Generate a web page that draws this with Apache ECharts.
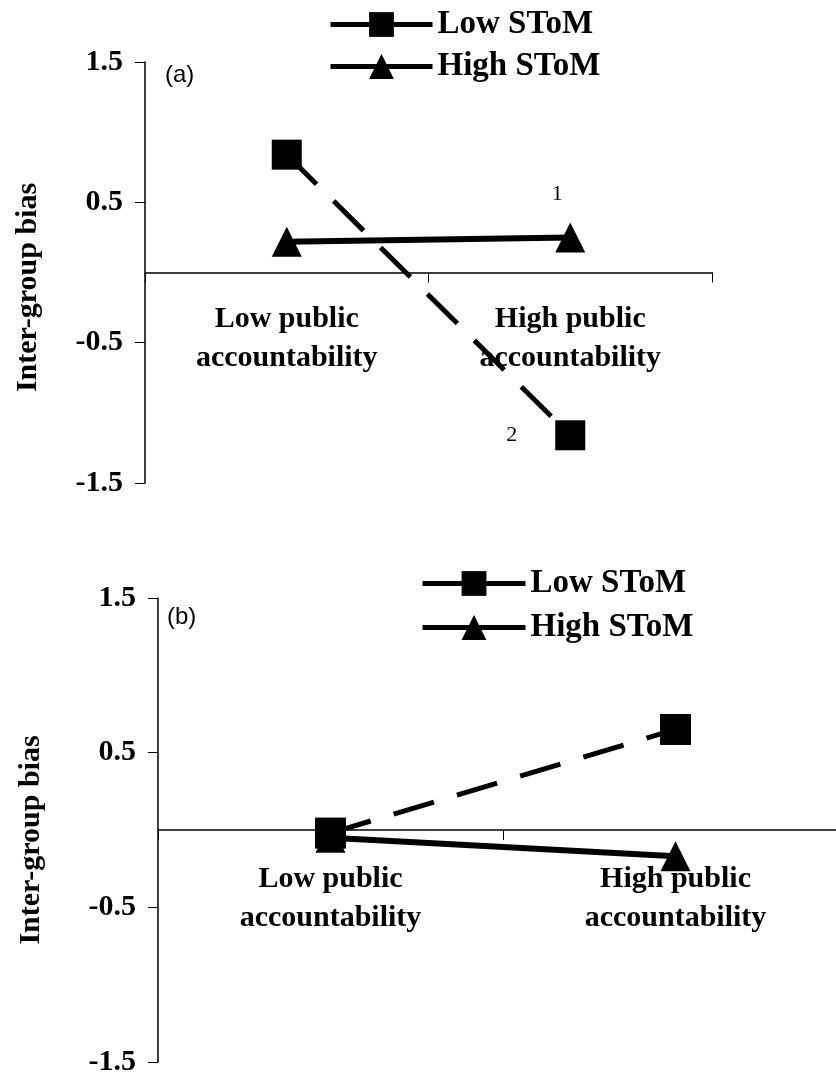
<!DOCTYPE html>
<html>
<head>
<meta charset="utf-8">
<script src="https://cdn.jsdelivr.net/npm/echarts@6/dist/echarts.min.js"></script>
<style>
html,body{margin:0;padding:0;background:#fff;}
#chart{width:836px;height:1072px;}
</style>
</head>
<body>
<div id="chart"></div>
<script>
// ---- data ----
const categories = ['Low public\naccountability', 'High public\naccountability'];
const seriesNames = ['Low SToM', 'High SToM'];
const lowStomA = [0.84, -1.16];
const highStomA = [0.22, 0.25];
const lowStomB = [-0.02, 0.65];
const highStomB = [-0.05, -0.17];
const yMin = -1.5, yMax = 1.5, yStep = 1;
const panelLabels = ['(a)', '(b)'];
const yName = 'Inter-group bias';
const notesA = { high: '1', low: '2' };

const serif = "'Liberation Serif','Times New Roman',serif";
const sans = "'Liberation Sans',Arial,sans-serif";
const chart = echarts.init(document.getElementById('chart'), null, { renderer: 'canvas' });

function xAxis(gridIndex, margin) {
  return {
    type: 'category', gridIndex, data: categories, boundaryGap: true,
    axisLine: { onZero: true, lineStyle: { color: '#000', width: 1.5 } },
    axisTick: { show: true, length: 10, lineStyle: { color: '#000', width: 1 } },
    axisLabel: { interval: 0, margin, color: '#000', fontFamily: serif, fontWeight: 'bold', fontSize: 30, lineHeight: 39 }
  };
}
function yAxis(gridIndex, nameGap, shift) {
  return {
    type: 'value', gridIndex, min: yMin, max: yMax, interval: yStep,
    name: yName, nameLocation: 'middle', nameRotate: 90, nameGap,
    nameTextStyle: { color: '#000', fontFamily: serif, fontWeight: 'bold', fontSize: 30, padding: [0, shift, 0, 0] },
    splitLine: { show: false },
    axisLine: { show: true, lineStyle: { color: '#000', width: 1.5 } },
    axisTick: { show: true, length: 10, lineStyle: { color: '#000', width: 1 } },
    axisLabel: { margin: 22, color: '#000', fontFamily: serif, fontWeight: 'bold', fontSize: 30,
      formatter: v => (Math.round(v * 10) / 10).toFixed(1) }
  };
}
const dashed = { color: '#000', width: 5, type: [42, 24] };
const solid = { color: '#000', width: 6 };
const legendText = { color: '#000', fontFamily: serif, fontWeight: 'bold', fontSize: 33 };

chart.setOption({
  animation: false,
  backgroundColor: '#fff',
  title: [
    { text: panelLabels[0], left: 165, top: 63, padding: 0, textStyle: { fontFamily: sans, fontWeight: 'normal', fontSize: 24, color: '#000' } },
    { text: panelLabels[1], left: 167, top: 605, padding: 0, textStyle: { fontFamily: sans, fontWeight: 'normal', fontSize: 24, color: '#000' } }
  ],
  legend: [
    { orient: 'vertical', left: 328, top: 8, padding: 0, itemGap: 9, itemWidth: 102, itemHeight: 31,
      data: seriesNames, selectedMode: false, lineStyle: { width: 5, type: 'solid' },
      textStyle: legendText },
    { orient: 'vertical', left: 420, top: 567, padding: 0, itemGap: 11, itemWidth: 103, itemHeight: 31,
      data: seriesNames, selectedMode: false, lineStyle: { width: 5, type: 'solid' },
      textStyle: legendText }
  ],
  grid: [
    { left: 145, top: 62, width: 567, height: 421, outerBoundsMode: 'none', containLabel: false },
    { left: 158, top: 598, width: 690, height: 464, outerBoundsMode: 'none', containLabel: false }
  ],
  xAxis: [xAxis(0, -183), xAxis(1, -202)],
  yAxis: [yAxis(0, 102, 30), yAxis(1, 112, 20)],
  series: [
    { name: seriesNames[1], type: 'line', xAxisIndex: 0, yAxisIndex: 0, z: 2,
      data: highStomA.map((v, i) => i === 1 ? { value: v, label: { show: true, formatter: notesA.high, position: 'top', distance: 17, offset: [-13, 0], fontFamily: serif, fontSize: 22, color: '#000' } } : v),
      symbol: 'triangle', symbolSize: 30,
      lineStyle: solid, itemStyle: { color: '#000' } },
    { name: seriesNames[0], type: 'line', xAxisIndex: 0, yAxisIndex: 0, z: 3,
      data: lowStomA.map((v, i) => i === 1 ? { value: v, label: { show: true, formatter: notesA.low, position: 'left', distance: 38, fontFamily: serif, fontSize: 22, color: '#000' } } : v),
      symbol: 'rect', symbolSize: 30,
      lineStyle: dashed, itemStyle: { color: '#000' } },
    { name: seriesNames[1], type: 'line', xAxisIndex: 1, yAxisIndex: 1, z: 2,
      data: highStomB, symbol: 'triangle', symbolSize: 30,
      lineStyle: solid, itemStyle: { color: '#000' } },
    { name: seriesNames[0], type: 'line', xAxisIndex: 1, yAxisIndex: 1, z: 3,
      data: lowStomB, symbol: 'rect', symbolSize: 31,
      lineStyle: dashed, itemStyle: { color: '#000' } }
  ]
});
</script>
</body>
</html>
